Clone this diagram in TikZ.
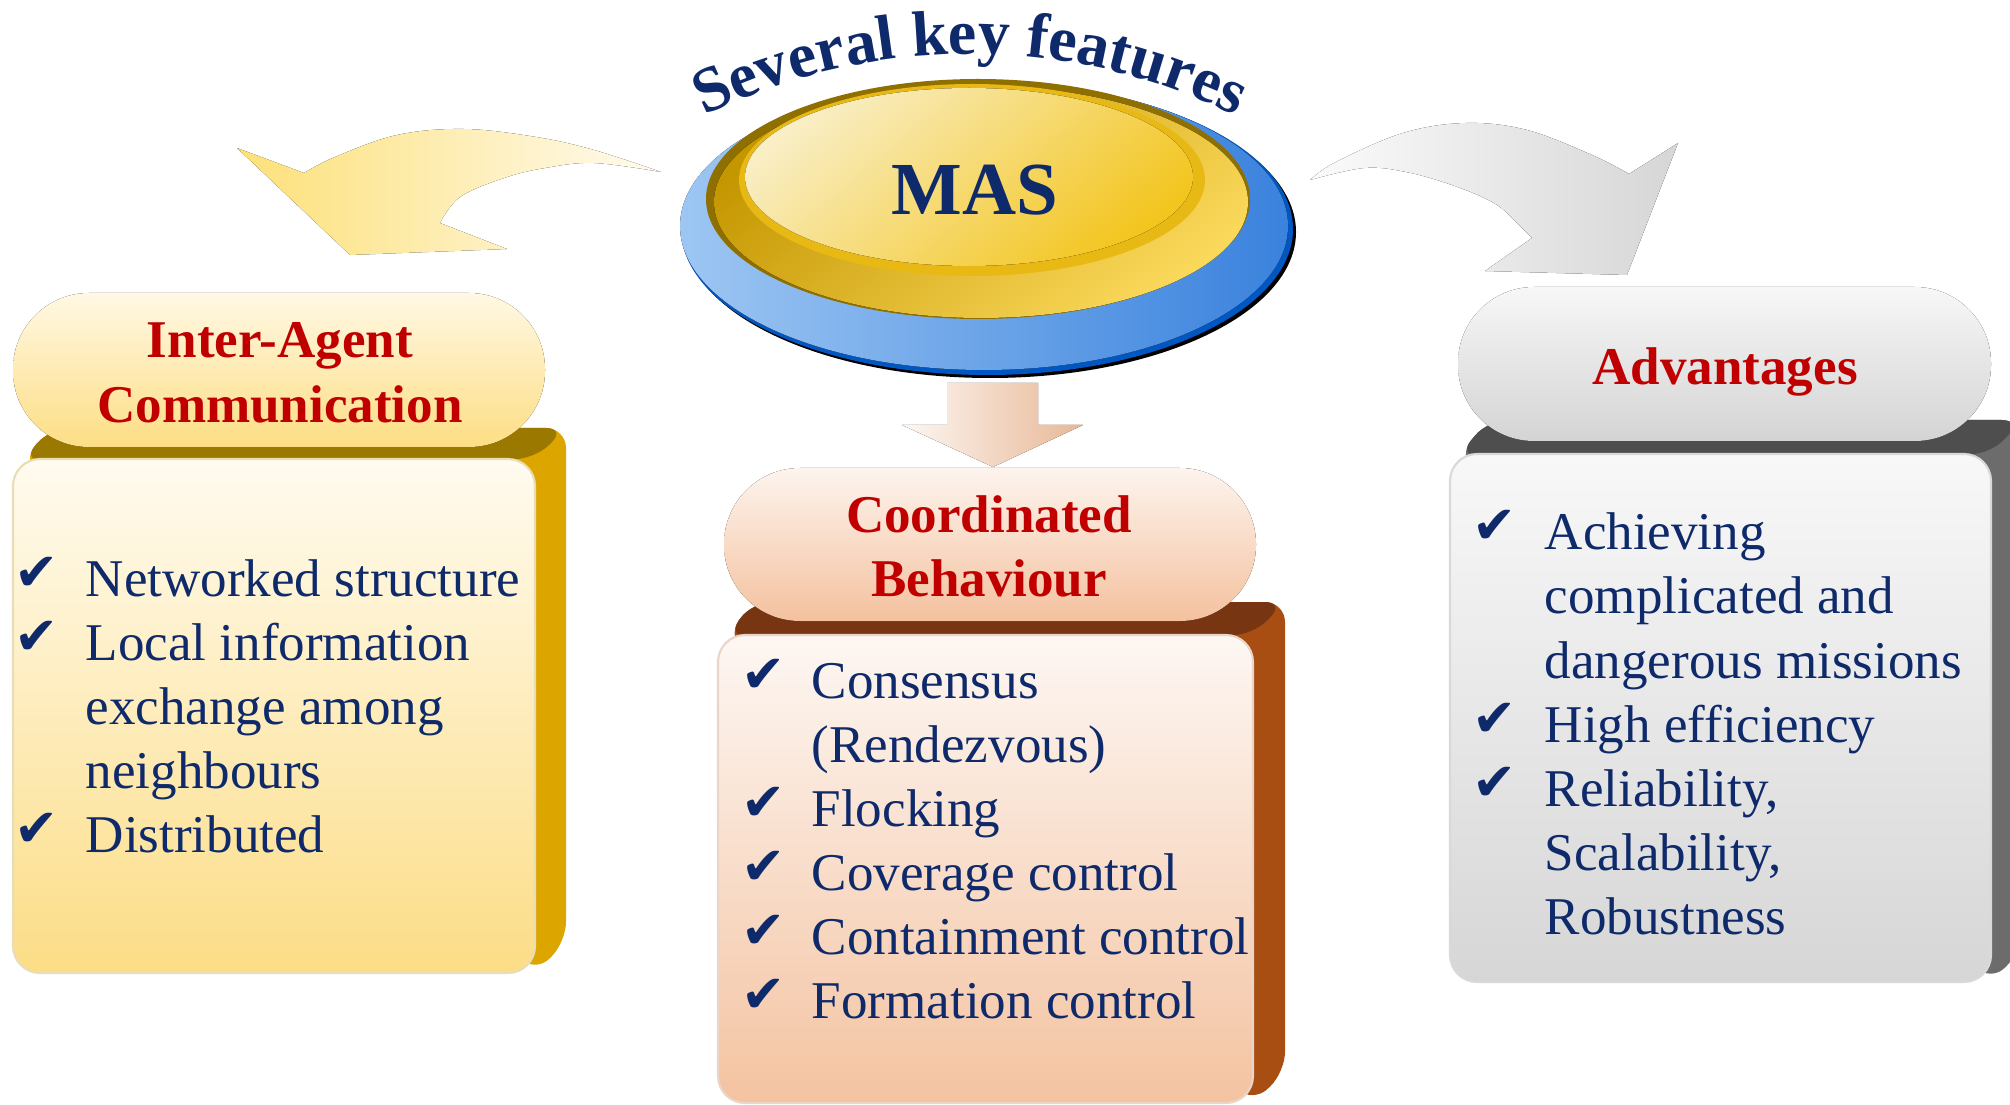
\documentclass[tikz,border=0pt]{standalone}
\usepackage{fontspec}
\setmainfont{Liberation Serif}
\newfontfamily\symfont{DejaVu Sans}
\usetikzlibrary{decorations.text}

\definecolor{navy}{HTML}{0F2A6B}
\definecolor{headred}{HTML}{C00000}
% yellow group
\definecolor{yBand}{HTML}{9B7800}
\definecolor{ySide}{HTML}{DCA500}
\definecolor{yTop}{HTML}{FFFBF0}
\definecolor{yBot}{HTML}{FCDD86}
\definecolor{yLine}{HTML}{E8DDB6}
\definecolor{yPillTop}{HTML}{FFF8E4}
\definecolor{yPillBot}{HTML}{FDDE84}
% salmon group
\definecolor{sBand}{HTML}{773611}
\definecolor{sSide}{HTML}{A84E13}
\definecolor{sTop}{HTML}{FDF7F3}
\definecolor{sBot}{HTML}{F4C3A1}
\definecolor{sLine}{HTML}{EBD5C8}
\definecolor{sPillTop}{HTML}{FDF4EE}
\definecolor{sPillBot}{HTML}{F4C19E}
% grey group
\definecolor{gBand}{HTML}{4E4E4E}
\definecolor{gSide}{HTML}{6C6C6C}
\definecolor{gTop}{HTML}{F8F8F8}
\definecolor{gBot}{HTML}{D6D6D6}
\definecolor{gLine}{HTML}{D9D9D9}
\definecolor{gPillTop}{HTML}{F7F7F7}
\definecolor{gPillBot}{HTML}{D4D4D4}

\newcommand\arcfont{\bfseries\fontsize{18.2}{20}\selectfont\color{navy}}

\begin{document}
\begin{tikzpicture}[x=0.1mm, y=-0.1mm,
  itemtext/.style={anchor=base west, inner sep=0pt, text=navy,
    font=\fontsize{15.1}{18}\selectfont},
  tick/.style={anchor=base west, inner sep=0pt, text=navy,
    font=\symfont\fontsize{15}{16}\selectfont},
  heading/.style={anchor=base, inner sep=0pt, text=headred,
    font=\bfseries\fontsize{15.1}{18}\selectfont},
  pill/.style={rounded corners=7.6mm},
  face/.style={rounded corners=2.7mm, line width=0.6pt},
  back/.style={rounded corners=2mm}
]
\useasboundingbox (0,0) rectangle (2010,1105);

% ---------- curved arrow to the left ----------
\fill[left color=yBot!90!yellow, right color=yTop]
  plot[smooth, tension=0.6] coordinates {(661,172) (594,150) (536,137) (464,129) (397,135) (335,157) (304,173)}
  -- (237,148) -- (350,255) -- (507,249)
  -- plot[smooth, tension=0.6] coordinates {(440,223) (460,197) (504,178) (545,168) (594,163) (661,172)}
  -- cycle;

% ---------- curved arrow to the right ----------
\fill[left color=gTop!60!white, right color=gBot]
  plot[smooth, tension=0.6] coordinates {(1310,180) (1336,162) (1403,133) (1466,123) (1527,130) (1592,155) (1629,174)}
  -- (1678,143) -- (1627,275) -- (1485,271)
  -- plot[smooth, tension=0.6] coordinates {(1532,238) (1517,223) (1494,203) (1452,185) (1406,172) (1364,168) (1310,180)}
  -- cycle;

% ---------- straight arrow down ----------
\fill[left color=sTop, right color=sPillBot!95!black]
  (947,383) -- (1038,383) -- (1038,425) -- (1083,425) -- (993,467) -- (902,425) -- (947,425) -- cycle;

% ---------- MAS disc ----------
\fill[black] (990,232) ellipse [x radius=306, y radius=146];
\fill[fill={rgb,255:red,0;green,87;blue,194}] (987,229) ellipse [x radius=306, y radius=146];
\fill[left color={rgb,255:red,157;green,198;blue,243}, right color={rgb,255:red,58;green,130;blue,221}]
  (984,226) ellipse [x radius=304, y radius=144];
\fill[fill={rgb,255:red,142;green,111;blue,0}] (978,199) ellipse [x radius=272, y radius=120];
\fill[top color={rgb,255:red,196;green,150;blue,0}, bottom color={rgb,255:red,250;green,216;blue,90}, shading angle=40]
  (981,202) ellipse [x radius=267, y radius=116];
\fill[fill={rgb,255:red,232;green,184;blue,20}] (972,180) ellipse [x radius=233, y radius=96];
\fill[top color={rgb,255:red,249;green,238;blue,196}, bottom color={rgb,255:red,243;green,197;blue,31}, shading angle=40]
  (969,177) ellipse [x radius=224, y radius=89];
\node[anchor=base, inner sep=0pt, text=navy, font=\bfseries\fontsize{21.3}{24}\selectfont]
  (mas) at (975,215) {MAS};

% ---------- arched caption ----------
\path[decorate, decoration={text along path, text align=center,
  text={|\arcfont|Several key features}}]
  (683.7,126.7) arc [start angle=-118.5, end angle=-61.5, radius=600];

% ---------- left block ----------
\fill[ySide, back] (22,461) -- (50,428) -- (566,428) -- (566,942) -- (535,973) -- cycle;
\fill[yBand, back] (22,461) -- (50,428) -- (566,428) -- (535,459) -- cycle;
\draw[face, draw=yLine, top color=yTop, bottom color=yBot] (13,459) rectangle (535,973);
\fill[pill, top color=yPillTop, bottom color=yPillBot] (13,293) rectangle (545,447);
\node[heading] (h1a) at (280,358) {Inter-Agent};
\node[heading] (h1b) at (280,423) {Communication};
\node[tick] (c1a) at (14,590) {✔};
\node[tick] (c1b) at (14,654) {✔};
\node[tick] (c1c) at (14,846) {✔};
\node[itemtext] (t1a) at (85,596) {Networked structure};
\node[itemtext] (t1b) at (85,660) {Local information};
\node[itemtext] (t1c) at (85,724) {exchange among};
\node[itemtext] (t1d) at (85,788) {neighbours};
\node[itemtext] (t1e) at (85,852) {Distributed};

% ---------- middle block ----------
\fill[sSide, back] (727,637) -- (752,602) -- (1285,602) -- (1285,1072) -- (1253,1103) -- cycle;
\fill[sBand, back] (727,637) -- (752,602) -- (1285,602) -- (1253,635) -- cycle;
\draw[face, draw=sLine, top color=sTop, bottom color=sBot] (718,635) rectangle (1253,1103);
\fill[pill, top color=sPillTop, bottom color=sPillBot] (724,468) rectangle (1256,621);
\node[heading] (h2a) at (989,533) {Coordinated};
\node[heading] (h2b) at (989,597) {Behaviour};
\node[tick] (c2a) at (741,692) {✔};
\node[tick] (c2b) at (741,820) {✔};
\node[tick] (c2c) at (741,884) {✔};
\node[tick] (c2d) at (741,948) {✔};
\node[tick] (c2e) at (741,1012) {✔};
\node[itemtext] (t2a) at (811,698) {Consensus};
\node[itemtext] (t2b) at (811,762) {(Rendezvous)};
\node[itemtext] (t2c) at (811,826) {Flocking};
\node[itemtext] (t2d) at (811,890) {Coverage control};
\node[itemtext] (t2e) at (811,954) {Containment control};
\node[itemtext] (t2f) at (811,1018) {Formation control};

% ---------- right block ----------
\fill[gSide, back] (1458,456) -- (1488,420) -- (2022,420) -- (2022,950) -- (1991,982) -- cycle;
\fill[gBand, back] (1458,456) -- (1488,420) -- (2022,420) -- (1991,454) -- cycle;
\draw[face, draw=gLine, top color=gTop, bottom color=gBot] (1450,454) rectangle (1991,982);
\fill[pill, top color=gPillTop, bottom color=gPillBot] (1458,287) rectangle (1991,441);
\node[heading] (h3) at (1725,385) {Advantages};
\node[tick] (c3a) at (1472,544) {✔};
\node[tick] (c3b) at (1472,736) {✔};
\node[tick] (c3c) at (1472,800) {✔};
\node[itemtext] (t3a) at (1544,550) {Achieving};
\node[itemtext] (t3b) at (1544,614) {complicated and};
\node[itemtext] (t3c) at (1544,678) {dangerous missions};
\node[itemtext] (t3d) at (1544,742) {High efficiency};
\node[itemtext] (t3e) at (1544,806) {Reliability,};
\node[itemtext] (t3f) at (1544,870) {Scalability,};
\node[itemtext] (t3g) at (1544,934) {Robustness};
\end{tikzpicture}
\end{document}
